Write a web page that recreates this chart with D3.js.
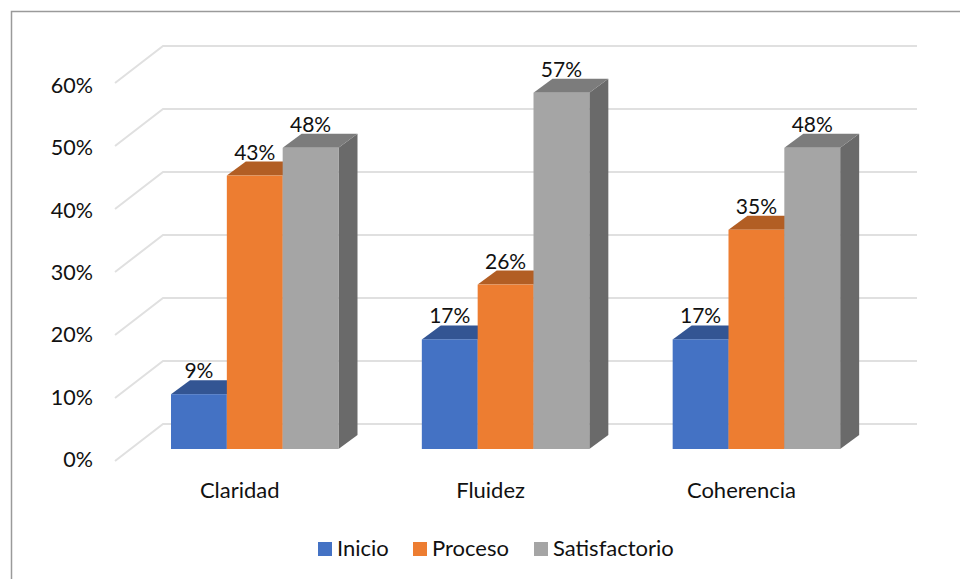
<!DOCTYPE html>
<html>
<head>
<meta charset="utf-8">
<script src="https://cdn.jsdelivr.net/npm/d3@7.9.0/dist/d3.min.js"></script>
<style>
  body { margin: 0; background: #fff; }
  svg { display: block; }
  text { font-family: Lato, "Open Sans", sans-serif; fill: #111; }
</style>
</head>
<body>
<svg width="960" height="579"></svg>
<script>
const categories = ['Claridad', 'Fluidez', 'Coherencia'];
const seriesNames = ['Inicio', 'Proceso', 'Satisfactorio'];
const inicio = [0.087, 0.174, 0.174];
const proceso = [0.434, 0.261, 0.348];
const satisfactorio = [0.478, 0.5655, 0.478];
const yTicks = [0, 0.1, 0.2, 0.3, 0.4, 0.5, 0.6];

const frontColors = ['#4472c4', '#ed7d31', '#a5a5a5'];
const topColors = ['#335593', '#b25e24', '#7c7c7c'];
const sideColors = ['#2a4a85', '#a05420', '#6a6a6a'];

let svg = d3.select('svg');

// chart frame, open on the right and bottom like the cropped original
svg.append('path')
  .attr('d', 'M11.5,579V11.5H960')
  .attr('fill', 'none')
  .attr('stroke', '#9a9a9a')
  .attr('stroke-width', 1.5);

// front plane of the axis and the shifted back wall
let y = d3.scaleLinear().domain([0, 0.6]).range([461, 83]);
let yLabel = d3.scaleLinear().domain([0, 0.6]).range([467, 93]);
const wallDx = 48, wallDy = -37;
const barDx = 19, barDy = -14;
const barBase = 449 - y(0);

yTicks.forEach((t) => {
  svg.append('path')
    .attr('d', `M115,${y(t)}L${115 + wallDx},${y(t) + wallDy}H917`)
    .attr('fill', 'none')
    .attr('stroke', '#e0e0e0')
    .attr('stroke-width', 2);

  svg.append('text')
    .attr('x', 93)
    .attr('y', yLabel(t))
    .attr('text-anchor', 'end')
    .attr('font-size', 21.5)
    .text(d3.format('.0%')(t));
});

let x = d3.scaleBand().domain(categories).range([129.5, 882]).paddingInner(0);
let xSeries = d3.scaleBand().domain(seriesNames).range([41.5, 209]);

const seriesValues = [inicio, proceso, satisfactorio];

categories.forEach((cat, c) => {
  seriesNames.forEach((name, s) => {
    let v = seriesValues[s][c];
    let x0 = x(cat) + xSeries(name);
    let w = xSeries.bandwidth();
    let top = y(v) + barBase;
    let bottom = y(0) + barBase;
    let g = svg.append('g');

    // side face, then top face, then front
    g.append('path')
      .attr('d', `M${x0 + w},${top}l${barDx},${barDy}V${bottom + barDy}l${-barDx},${-barDy}Z`)
      .attr('fill', sideColors[s]);
    g.append('path')
      .attr('d', `M${x0},${top}l${barDx},${barDy}h${w}l${-barDx},${-barDy}Z`)
      .attr('fill', topColors[s]);
    g.append('rect')
      .attr('x', x0)
      .attr('y', top)
      .attr('width', w)
      .attr('height', bottom - top)
      .attr('fill', frontColors[s]);
  });
});

// labels last so the neighbouring bars do not cover them
categories.forEach((cat, c) => {
  seriesNames.forEach((name, s) => {
    let v = seriesValues[s][c];
    svg.append('text')
      .attr('x', x(cat) + xSeries(name) + xSeries.bandwidth() / 2)
      .attr('y', y(v) + barBase - 16)
      .attr('text-anchor', 'middle')
      .attr('font-size', 21)
      .text(d3.format('.0%')(v));
  });
  svg.append('text')
    .attr('x', x(cat) + xSeries(seriesNames[1]) + xSeries.bandwidth() / 2 - 15)
    .attr('y', 498)
    .attr('text-anchor', 'middle')
    .attr('font-size', 22)
    .text(cat);
});

// legend
const legendX = [318, 413, 534];
seriesNames.forEach((name, s) => {
  svg.append('rect')
    .attr('x', legendX[s])
    .attr('y', 542)
    .attr('width', 14)
    .attr('height', 14)
    .attr('fill', frontColors[s]);
  svg.append('text')
    .attr('x', legendX[s] + 19)
    .attr('y', 556)
    .attr('font-size', 22)
    .text(name);
});
</script>
</body>
</html>
